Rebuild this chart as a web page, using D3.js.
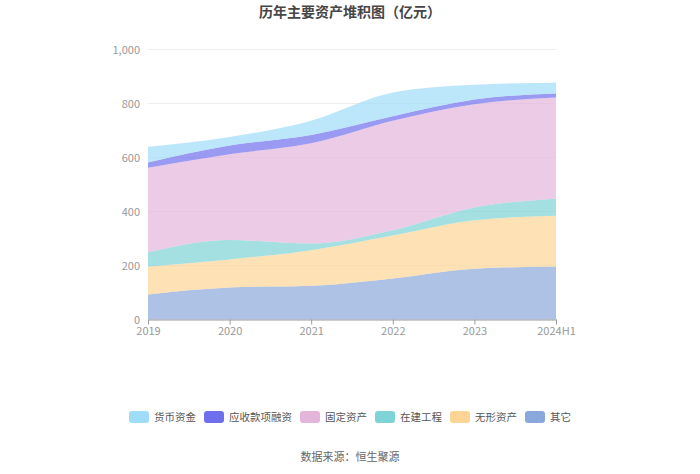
<!DOCTYPE html>
<html lang="zh">
<head>
<meta charset="utf-8">
<style>
  body { margin: 0; background: #fff; }
  text { font-family: "Noto Sans CJK SC", "Noto Sans", sans-serif; }
</style>
</head>
<body>
<svg id="chart" width="700" height="474"></svg>
<script src="https://d3js.org/d3.v7.min.js"></script>
<script>
    // data (亿元)
    var years = ["2019", "2020", "2021", "2022", "2023", "2024H1"];
    var seriesNames = ["其它", "无形资产", "在建工程", "固定资产", "应收款项融资", "货币资金"];
    var other = [92.6, 118.5, 124.7, 151.9, 187.7, 196.3];
    var intangible = [102.4, 103.7, 132.0, 159.0, 180.0, 188.0];
    var construction = [54.0, 72.0, 24.7, 20.0, 47.0, 63.0];
    var fixedAssets = [312.7, 318.0, 371.0, 405.0, 382.5, 375.0];
    var receivables = [20.0, 32.0, 31.0, 17.0, 17.5, 15.0];
    var cash = [58.0, 32.0, 53.0, 87.7, 55.0, 39.5];
    var yTicks = [0, 200, 400, 600, 800, 1000];

    var colors = {
        "货币资金": "#9fdcf7",
        "应收款项融资": "#6f6fee",
        "固定资产": "#e3b5da",
        "在建工程": "#7dd3d5",
        "无形资产": "#fdd494",
        "其它": "#8ba8dc"
    };
    var legendOrder = ["货币资金", "应收款项融资", "固定资产", "在建工程", "无形资产", "其它"];

    var values = [other, intangible, construction, fixedAssets, receivables, cash];
    var rows = years.map(function (y, i) {
        var r = {year: y};
        seriesNames.forEach(function (n, k) { r[n] = values[k][i]; });
        return r;
    });

    var svg = d3.select("#chart");
    var plotLeft = 148, plotRight = 556, plotTop = 49.5, plotBottom = 319.5;

    var x = d3.scalePoint().domain(years).range([plotLeft, plotRight]);
    var y = d3.scaleLinear().domain([0, 1000]).range([plotBottom, plotTop]);

    // title
    svg.append("text")
        .attr("x", 350).attr("y", 17)
        .attr("text-anchor", "middle")
        .attr("font-size", "14px")
        .attr("font-weight", "bold")
        .attr("fill", "#464646")
        .text("历年主要资产堆积图（亿元）");

    // grid
    svg.append("g").selectAll("line")
        .data(yTicks.slice(1))
        .enter().append("line")
        .attr("x1", plotLeft).attr("x2", plotRight)
        .attr("y1", function (d) { return y(d); })
        .attr("y2", function (d) { return y(d); })
        .attr("stroke", "#eeeeee");

    // areas
    var stack = d3.stack().keys(seriesNames);
    var layers = stack(rows);
    var area = d3.area()
        .curve(d3.curveMonotoneX)
        .x(function (d) { return x(d.data.year); })
        .y0(function (d) { return y(d[0]); })
        .y1(function (d) { return y(d[1]); });

    svg.append("g").selectAll("path")
        .data(layers)
        .enter().append("path")
        .attr("d", area)
        .attr("fill", function (d) { return colors[d.key]; })
        .attr("fill-opacity", 0.7);

    // y axis labels
    svg.append("g").selectAll("text")
        .data(yTicks)
        .enter().append("text")
        .attr("x", plotLeft - 8)
        .attr("y", function (d) { return y(d) + 4; })
        .attr("text-anchor", "end")
        .attr("font-size", "11px")
        .attr("fill", "#999")
        .text(function (d) { return d3.format(",")(d); });

    // x axis
    var xAxis = svg.append("g")
        .attr("transform", "translate(0," + plotBottom + ")")
        .call(d3.axisBottom(x).tickSize(5).tickPadding(3).tickSizeOuter(0));
    xAxis.select(".domain").attr("stroke", "#999");
    xAxis.selectAll(".tick line").attr("stroke", "#999");
    xAxis.selectAll(".tick text")
        .attr("font-size", "11px")
        .attr("fill", "#999")
        .attr("font-family", "\"Noto Sans CJK SC\", \"Noto Sans\", sans-serif");

    // legend
    var legend = svg.append("g");
    var lx = 0;
    legendOrder.forEach(function (name) {
        var g = legend.append("g").attr("transform", "translate(" + lx + ",0)");
        g.append("rect")
            .attr("x", 0).attr("y", -6)
            .attr("width", 20).attr("height", 12)
            .attr("rx", 3)
            .attr("fill", colors[name]);
        var t = g.append("text")
            .attr("x", 25).attr("y", 4)
            .attr("font-size", "10.5px")
            .attr("fill", "#555")
            .text(name);
        var w = t.node().getComputedTextLength();
        lx += 25 + w + 8;
    });
    legend.attr("transform", "translate(" + (350 - (lx - 8) / 2) + ",417)");

    // source
    svg.append("text")
        .attr("x", 350).attr("y", 461)
        .attr("text-anchor", "middle")
        .attr("font-size", "11px")
        .attr("fill", "#666")
        .text("数据来源：恒生聚源");
</script>
</body>
</html>
